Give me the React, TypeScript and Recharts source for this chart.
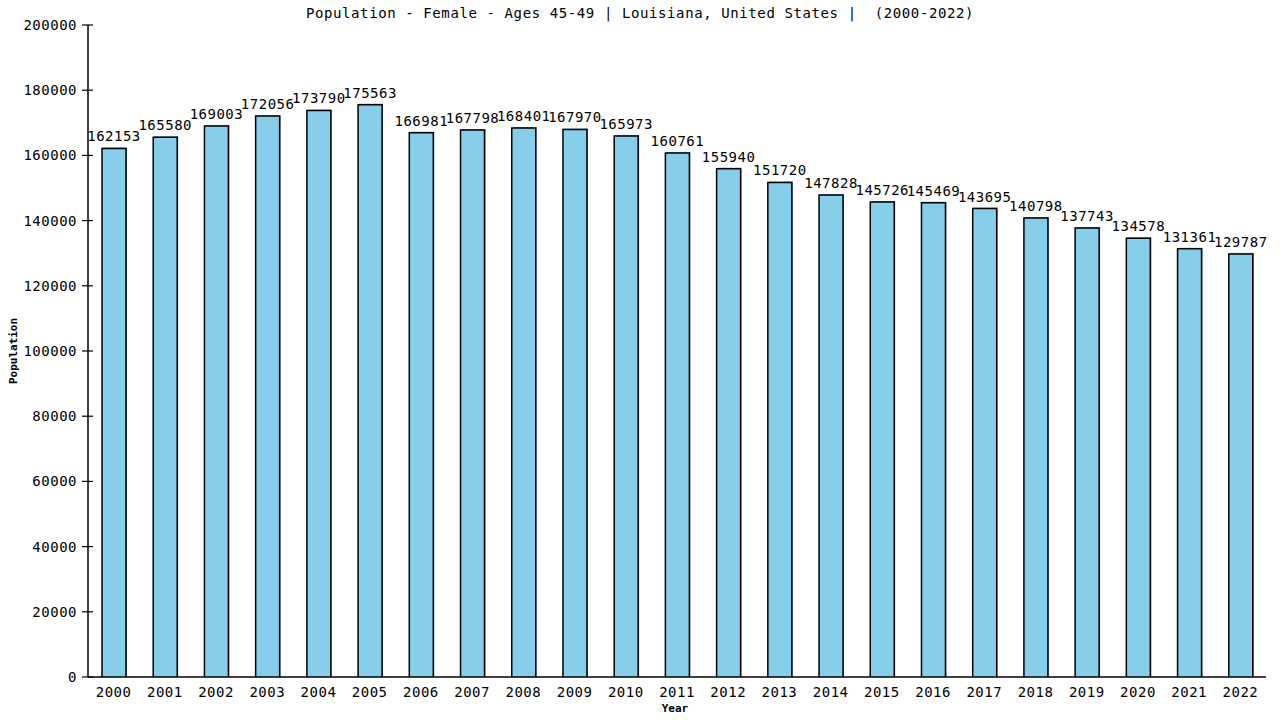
import React from 'react';
import { BarChart, Bar, XAxis, YAxis, LabelList } from 'recharts';

const years = ['2000','2001','2002','2003','2004','2005','2006','2007','2008','2009','2010','2011','2012','2013','2014','2015','2016','2017','2018','2019','2020','2021','2022'];
const population = [162153,165580,169003,172056,173790,175563,166981,167798,168401,167970,165973,160761,155940,151720,147828,145726,145469,143695,140798,137743,134578,131361,129787];
const yTicks = [0,20000,40000,60000,80000,100000,120000,140000,160000,180000,200000];

const data = years.map((y, i) => ({ year: y, value: population[i] }));

const FONT = '"DejaVu Sans Mono", "Liberation Mono", monospace';
const LS = 0.5;

const BarShape = (props: any) => {
  const { x, y, width, height } = props;
  if (height <= 0) return null;
  return (
    <g>
      <rect x={x + 1} y={y - 1} width={width} height={height + 1} fill="#6fa8c8" />
      <rect x={x} y={y} width={width} height={height} fill="#87CEEB" />
      <path d={`M${x},${y + height} L${x},${y} L${x + width},${y} L${x + width},${y + height}`} fill="none" stroke="#000" strokeWidth={1.5} />
    </g>
  );
};

const YTick = (props: any) => {
  const { y, payload } = props;
  return (
    <g>
      <line x1={82} x2={93} y1={y} y2={y} stroke="#000" strokeWidth={1.2} />
      <text x={77} y={y} dy={5} textAnchor="end" fontFamily={FONT} fontSize={14} letterSpacing={LS} fill="#000">{payload.value}</text>
    </g>
  );
};

export default function App() {
  return (
    <div style={{ position: 'fixed', left: 0, top: 0, width: 1280, height: 720, background: '#fff' }}>
      <svg width={1280} height={720} style={{ position: 'absolute', left: 0, top: 0 }}>
        <text x={640} y={18} textAnchor="middle" fontFamily={FONT} fontSize={14} letterSpacing={0.6} fill="#000" style={{ whiteSpace: 'pre' }}>Population - Female - Ages 45-49 | Louisiana, United States |  (2000-2022)</text>
        <text x={17} y={351} textAnchor="middle" fontFamily={FONT} fontSize={11} fontWeight="bold" fill="#000" transform="rotate(-90 17 351)">Population</text>
        <text x={675} y={712} textAnchor="middle" fontFamily={FONT} fontSize={11} fontWeight="bold" fill="#000">Year</text>
      </svg>
      <div style={{ position: 'absolute', left: 0, top: 0 }}>
        <BarChart width={1280} height={720} data={data} margin={{ top: 25, right: 14, bottom: 0, left: 0 }} barSize={24}>
          <XAxis dataKey="year" height={43} tickLine={false} axisLine={{ stroke: '#000', strokeWidth: 1.5 }} tickMargin={4} tick={{ fill: '#000', fontFamily: FONT, fontSize: 14, letterSpacing: LS }} interval={0} />
          <YAxis yAxisId="left" width={88} domain={[0, 200000]} ticks={yTicks} tickLine={false} axisLine={{ stroke: '#000', strokeWidth: 1.5 }} tick={<YTick />} interval={0} />
          <YAxis yAxisId="right" orientation="right" width={0} domain={[0, 200000]} tick={false} tickLine={false} axisLine={{ stroke: '#000', strokeWidth: 1.5 }} />
          <Bar yAxisId="left" dataKey="value" isAnimationActive={false} shape={<BarShape />}>
            <LabelList dataKey="value" position="top" offset={7} fill="#000" fontFamily={FONT} fontSize={14} letterSpacing={LS} />
          </Bar>
        </BarChart>
      </div>
    </div>
  );
}
